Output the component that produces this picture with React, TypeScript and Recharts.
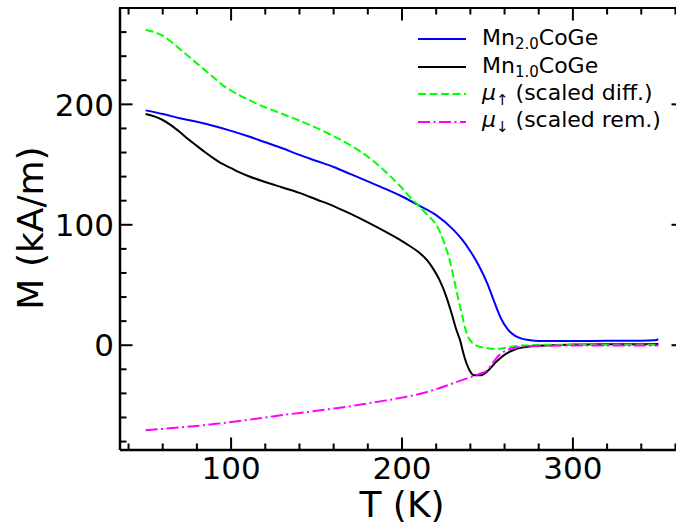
import React from 'react';
import { LineChart, Line, XAxis, YAxis, Legend } from 'recharts';

// T in K, M in kA/m
const T_MN20 = [50, 60, 70, 80, 90, 100, 110, 120, 130, 140, 150, 160, 170, 180, 190, 200, 210, 220, 230, 235, 240, 245, 250, 254, 258, 262, 266, 270, 275, 280, 300, 320, 340, 348, 350];
const M_MN20 = [195, 192, 188.5, 185.5, 182, 178, 173.5, 168.5, 163.5, 158, 153, 148, 142, 136, 130, 123.5, 116, 108, 96, 88, 78, 66, 51, 36, 22, 13, 8, 5.5, 4.2, 3.6, 3.5, 3.7, 3.8, 4.2, 5];

const T_MN10 = [50, 55, 60, 65, 70, 75, 80, 85, 90, 95, 100, 105, 110, 120, 130, 140, 150, 160, 170, 180, 190, 200, 205, 210, 215, 218, 222, 226, 229, 232, 234, 236, 238, 240, 242, 246, 250, 255, 261, 265, 270, 280, 300, 320, 340, 350];
const M_MN10 = [192, 190, 187, 182.5, 177, 171, 165.5, 160, 155, 150.5, 147, 143.5, 140.5, 135.5, 131, 126.5, 121, 115.5, 109, 102, 94.5, 86.5, 82, 77, 70, 64, 54, 40, 26.5, 12, 4, -7, -16, -22, -25, -25, -21.5, -14, -7, -4.2, -2, -0.5, 0.5, 0.8, 0.9, 1];

const T_UP = [50, 55, 60, 65, 70, 75, 80, 85, 90, 95, 100, 105, 110, 115, 120, 130, 140, 150, 160, 170, 180, 190, 200, 205, 210, 215, 220, 225, 228, 231, 233, 235, 237, 239, 242, 246, 250, 255, 260, 265, 270, 280, 300, 350];
const M_UP = [262, 260, 257, 252, 246, 240, 234, 228, 222, 216, 211.5, 207.5, 204, 200.5, 197.5, 192, 186.5, 180.5, 173.5, 166, 156.5, 144.5, 130.5, 122.5, 115.5, 108, 100, 84, 70, 51, 38, 26, 14, 6, 1, -1.5, -2.5, -3, -2.2, -1, -0.3, 0.3, 0.4, 0.4];

const T_DOWN = [50, 60, 70, 80, 90, 100, 110, 120, 130, 140, 150, 160, 170, 180, 190, 200, 210, 220, 230, 240, 245, 250, 253, 256, 260, 265, 270, 280, 300, 350];
const M_DOWN = [-70.5, -69.5, -68.3, -67, -65.5, -63.8, -62, -60, -58, -56.2, -54.5, -52.6, -50.6, -48.3, -46, -43.5, -40.5, -36.5, -31.5, -26.5, -24, -20.5, -15, -9.5, -5, -2.5, -1.3, -0.5, -0.3, -0.3];

const X_DOMAIN = [35, 365];
const Y_DOMAIN = [-87, 280];
const X_TICKS = [40, 60, 80, 100, 120, 140, 160, 180, 200, 220, 240, 260, 280, 300, 320, 340, 360];
const X_MAJOR = [100, 200, 300];
const Y_TICKS = [-80, -60, -40, -20, 0, 20, 40, 60, 80, 100, 120, 140, 160, 180, 200, 220, 240, 260];
const Y_MAJOR = [0, 100, 200];

const LEGEND_ORDER = ['mn20', 'mn10', 'up', 'down'];

const FONT = 'DejaVu Sans';
const CHART_W = 684;
const CHART_H = 529;
const X_AXIS_H = 79;
const Y_AXIS_W = 120;
const MARGIN = { top: 8, right: 0, bottom: 0, left: 0 };
const PLOT_H = CHART_H - MARGIN.top - MARGIN.bottom - X_AXIS_H;
const PLOT_RIGHT = CHART_W - MARGIN.right;

const zip = (ts: number[], ms: number[]) => ts.map((T, i) => ({ T, M: ms[i] }));

const sub = (v: number) => ({ fontSize: 15, verticalAlign: v });

const LABELS: Record<string, React.ReactNode> = {
  mn20: <>Mn<sub style={sub(-4)}>2.0</sub>CoGe</>,
  mn10: <>Mn<sub style={sub(-4)}>1.0</sub>CoGe</>,
  up: <><i>μ</i><sub style={sub(-5)}>↑</sub> (scaled diff.)</>,
  down: <><i>μ</i><sub style={sub(-5)}>↓</sub> (scaled rem.)</>,
};

const tickLen = (major: boolean) => (major ? 12.5 : 6.5);

// bottom tick + mirrored tick on the top edge
const BottomTick = (props: any) => {
  const { x, y, payload } = props;
  const major = X_MAJOR.includes(payload.value);
  const len = tickLen(major);
  const top = y - PLOT_H;
  return (
    <g>
      <path d={`M${x},${y}V${y - len}`} stroke="#000" strokeWidth={2} />
      <path d={`M${x},${top}V${top + len}`} stroke="#000" strokeWidth={2} />
      {major && (
        <text x={x} y={y + 29} textAnchor="middle" fontSize={31} fontFamily={FONT} fill="#000">
          {payload.value}
        </text>
      )}
    </g>
  );
};

// left tick + mirrored tick on the right edge
const LeftTick = (props: any) => {
  const { x, y, payload } = props;
  const major = Y_MAJOR.includes(payload.value);
  const len = tickLen(major);
  return (
    <g>
      <line x1={x} x2={x + len} y1={y} y2={y} stroke="#000" strokeWidth={2} />
      <line x1={PLOT_RIGHT} x2={PLOT_RIGHT - len} y1={y} y2={y} stroke="#000" strokeWidth={2} />
      {major && (
        <text x={x - 6} y={y} dy="0.36em" textAnchor="end" fontSize={31} fontFamily={FONT} fill="#000">
          {payload.value}
        </text>
      )}
    </g>
  );
};

const renderLegend = (props: any) => {
  const items = [...(props.payload || [])]
    .filter((e: any) => LEGEND_ORDER.includes(e.value))
    .sort((a: any, b: any) => LEGEND_ORDER.indexOf(a.value) - LEGEND_ORDER.indexOf(b.value));
  return (
    <div style={{ fontFamily: FONT, fontSize: 22, color: '#000' }}>
      {items.map((entry: any) => (
        <div key={entry.value} style={{ height: 27.7, display: 'flex', alignItems: 'center', whiteSpace: 'nowrap' }}>
          <svg width={48} height={10} style={{ marginRight: 16 }}>
            <line x1={0} x2={48} y1={5} y2={5} stroke={entry.color} strokeWidth={2}
              strokeDasharray={entry.payload?.strokeDasharray} />
          </svg>
          <span>{LABELS[entry.value]}</span>
        </div>
      ))}
    </div>
  );
};

const XTitle = (p: any) => {
  const { x, y, width } = p.viewBox;
  return (
    <text x={x + width / 2} y={y + 67} textAnchor="middle" fontSize={36} fontFamily={FONT} fill="#000">
      T (K)
    </text>
  );
};

const YTitle = (p: any) => {
  const cx = p.viewBox.x + 43;
  const cy = p.viewBox.y + p.viewBox.height / 2 - 1;
  return (
    <text x={cx} y={cy} transform={`rotate(-90, ${cx}, ${cy})`} textAnchor="middle"
      fontSize={36} fontFamily={FONT} fill="#000">M (kA/m)</text>
  );
};

const App = () => {
  return (
    <div style={{ position: 'fixed', top: 0, left: 0, width: 676, height: 529, overflow: 'hidden', background: '#fff' }}>
      <LineChart width={CHART_W} height={CHART_H} margin={MARGIN}>
        <XAxis type="number" dataKey="T" domain={X_DOMAIN} allowDataOverflow ticks={X_TICKS}
          interval={0} height={X_AXIS_H} tickSize={0} tickMargin={0} tickLine={false} tick={BottomTick}
          axisLine={{ stroke: '#000', strokeWidth: 2.5 }} label={{ content: XTitle }} />
        <YAxis type="number" domain={Y_DOMAIN} allowDataOverflow ticks={Y_TICKS} interval={0}
          width={Y_AXIS_W} tickSize={0} tickMargin={0} tickLine={false} tick={LeftTick}
          axisLine={{ stroke: '#000', strokeWidth: 2.5 }} label={{ content: YTitle }} />
        <Legend layout="vertical" align="center" verticalAlign="middle" content={renderLegend}
          wrapperStyle={{ left: 418, top: 25, width: 'auto', height: 'auto' }} />
        <Line data={zip(T_MN20, M_MN20)} dataKey="M" name="mn20" type="monotone" stroke="#0000ff"
          strokeWidth={2} dot={false} isAnimationActive={false} />
        <Line data={zip(T_MN10, M_MN10)} dataKey="M" name="mn10" type="monotone" stroke="#000000"
          strokeWidth={2} dot={false} isAnimationActive={false} />
        <Line data={zip(T_UP, M_UP)} dataKey="M" name="up" type="monotone" stroke="#00ff00"
          strokeWidth={2} strokeDasharray="8 3.5" dot={false} isAnimationActive={false} />
        <Line data={zip(T_DOWN, M_DOWN)} dataKey="M" name="down" type="monotone" stroke="#ff00ff"
          strokeWidth={2} strokeDasharray="12 3.5 2 3.5" dot={false} isAnimationActive={false} />
      </LineChart>
      {/* top spine of the frame, laid over the chart */}
      <div style={{
        position: 'absolute', zIndex: 5, left: Y_AXIS_W - 1.25, top: MARGIN.top - 1.25,
        width: PLOT_RIGHT - Y_AXIS_W + 2.5, height: 2.5, background: '#000', pointerEvents: 'none',
      }} />
    </div>
  );
};

export default App;
